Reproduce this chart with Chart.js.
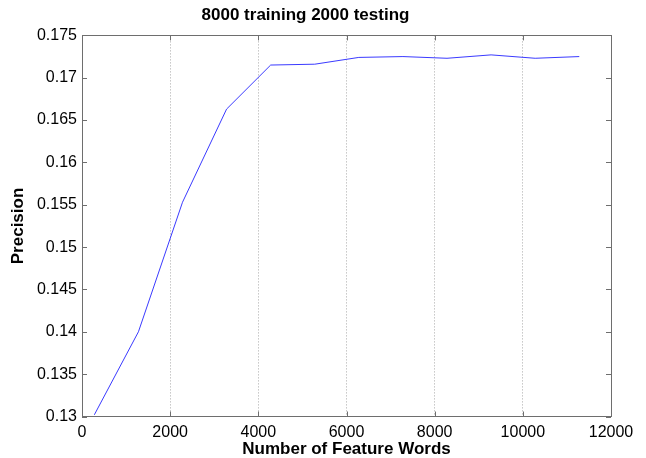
<!DOCTYPE html>
<html>
<head>
<meta charset="utf-8">
<script src="https://cdn.jsdelivr.net/npm/chart.js@4"></script>
<style>
  html, body { margin: 0; padding: 0; background: #fff; }
  #wrap { width: 646px; height: 458px; position: relative; }
</style>
</head>
<body>
<div id="wrap"><canvas id="c"></canvas></div>
<script>
// Vocabulary size used as features, and the resulting precision
const featureWords = [280, 1280, 2280, 3280, 4280, 5280, 6280, 7280, 8280, 9280, 10280, 11280];
const precision    = [0.1302, 0.1400, 0.1553, 0.1663, 0.1715, 0.1716, 0.1724, 0.1725, 0.1723, 0.1727, 0.1723, 0.1725];

const xRange = [0, 12000];
const xStep = 2000;
const yRange = [0.13, 0.175];
const yStep = 0.005;

const titleText = '8000 training 2000 testing';
const xTitle = 'Number of Feature Words';
const yTitle = 'Precision';

const fontFamily = "'Liberation Sans', Arial, Helvetica, sans-serif";

// Box around the plot with short inward tick marks on all four sides
const boxTicks = {
  id: 'boxTicks',
  afterDraw(chart) {
    const { ctx, chartArea: a, scales } = chart;
    const len = 5;
    ctx.save();
    ctx.lineWidth = 1;
    ctx.strokeStyle = '#6e6e6e';
    ctx.strokeRect(Math.round(a.left) + 0.5, Math.round(a.top) + 0.5,
                   Math.round(a.right - a.left), Math.round(a.bottom - a.top));
    ctx.beginPath();
    scales.x.ticks.forEach(t => {
      const px = Math.round(scales.x.getPixelForValue(t.value)) + 0.5;
      ctx.moveTo(px, a.bottom); ctx.lineTo(px, a.bottom - len);
      ctx.moveTo(px, a.top); ctx.lineTo(px, a.top + len);
    });
    scales.y.ticks.forEach(t => {
      const py = Math.round(scales.y.getPixelForValue(t.value)) + 0.5;
      ctx.moveTo(a.left, py); ctx.lineTo(a.left + len, py);
      ctx.moveTo(a.right, py); ctx.lineTo(a.right - len, py);
    });
    ctx.stroke();
    ctx.restore();
  }
};

new Chart(document.getElementById('c'), {
  type: 'line',
  data: {
    datasets: [{
      data: featureWords.map((x, i) => ({ x, y: precision[i] })),
      borderColor: '#3a3aff',
      borderWidth: 1,
      pointRadius: 0,
      tension: 0,
      fill: false
    }]
  },
  options: {
    responsive: true,
    maintainAspectRatio: false,
    animation: false,
    devicePixelRatio: 1,
    layout: { padding: { left: 0, right: 35, top: 0, bottom: 0 } },
    plugins: {
      legend: { display: false },
      tooltip: { enabled: false },
      title: {
        display: true,
        text: titleText,
        color: '#000',
        font: { family: fontFamily, size: 17, weight: 'bold' },
        padding: { top: 5, bottom: 10 }
      }
    },
    scales: {
      x: {
        type: 'linear',
        min: xRange[0],
        max: xRange[1],
        afterFit(scale) { scale.height = 41.5; },
        ticks: {
          stepSize: xStep,
          color: '#000',
          padding: 6,
          maxRotation: 0,
          font: { family: fontFamily, size: 16 },
          callback: v => String(v)
        },
        grid: {
          drawTicks: false,
          lineWidth: 1,
          color: ctx => (ctx.tick && (ctx.tick.value === xRange[0] || ctx.tick.value === xRange[1])) ? 'rgba(0,0,0,0)' : '#a8a8a8'
        },
        border: { display: false, dash: [1, 2] },
        title: {
          display: true,
          text: xTitle,
          color: '#000',
          font: { family: fontFamily, size: 17, weight: 'bold', lineHeight: 1 },
          padding: { top: 0, bottom: 0 }
        }
      },
      y: {
        type: 'linear',
        min: yRange[0],
        max: yRange[1],
        afterFit(scale) { scale.width = 82; },
        ticks: {
          stepSize: yStep,
          color: '#000',
          padding: 5,
          font: { family: fontFamily, size: 16 },
          callback: v => String(parseFloat(Number(v).toFixed(3)))
        },
        grid: { display: false, drawTicks: false },
        border: { display: false },
        title: {
          display: true,
          text: yTitle,
          color: '#000',
          font: { family: fontFamily, size: 17, weight: 'bold' },
          padding: { top: 8, bottom: 0 }
        }
      }
    }
  },
  plugins: [boxTicks]
});
</script>
</body>
</html>
